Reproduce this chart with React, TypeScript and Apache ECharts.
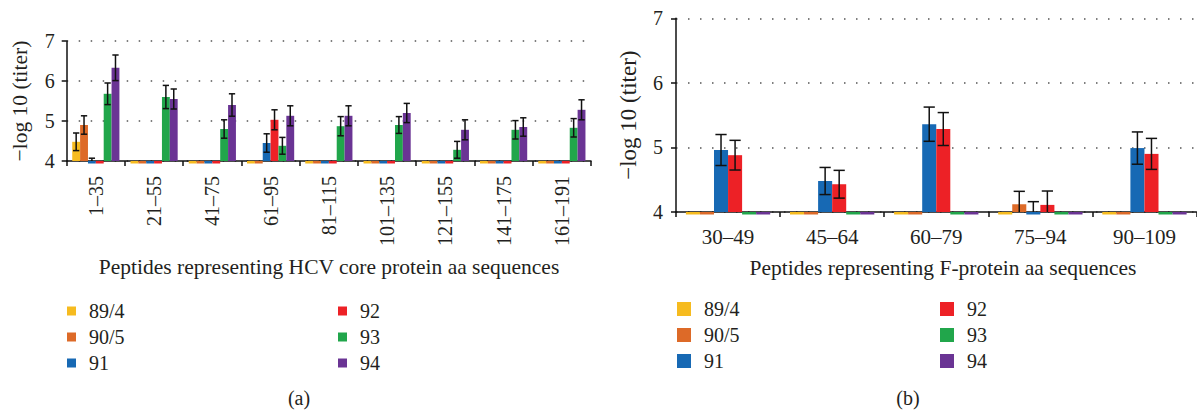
import React, { useEffect, useRef } from "react";
import * as echarts from "echarts";

const seriesNames = ["89/4", "90/5", "91", "92", "93", "94"];
const seriesColors = ["#f6bb1f", "#dd6a28", "#1769b4", "#ed2126", "#21a64b", "#6a3494"];

const coreCategories = ["1–35", "21–55", "41–75", "61–95", "81–115", "101–135", "121–155", "141–175", "161–191"];
const core894 = [4.48, 4, 4, 4, 4, 4, 4, 4, 4];
const core905 = [4.9, 4, 4, 4, 4, 4, 4, 4, 4];
const core91 = [4, 4, 4, 4.45, 4, 4, 4, 4, 4];
const core92 = [4, 4, 4, 5.03, 4, 4, 4, 4, 4];
const core93 = [5.68, 5.6, 4.8, 4.38, 4.87, 4.9, 4.28, 4.78, 4.83];
const core94 = [6.33, 5.55, 5.4, 5.13, 5.13, 5.2, 4.78, 4.85, 5.28];
const coreErr894 = [0.22, 0, 0, 0, 0, 0, 0, 0, 0];
const coreErr905 = [0.23, 0, 0, 0, 0, 0, 0, 0, 0];
const coreErr91 = [0.07, 0, 0, 0.23, 0, 0, 0, 0, 0];
const coreErr92 = [0, 0, 0, 0.25, 0, 0, 0, 0, 0];
const coreErr93 = [0.27, 0.29, 0.23, 0.21, 0.24, 0.21, 0.21, 0.23, 0.23];
const coreErr94 = [0.32, 0.25, 0.28, 0.25, 0.25, 0.24, 0.25, 0.23, 0.25];

const fCategories = ["30–49", "45–64", "60–79", "75–94", "90–109"];
const f894 = [4, 4, 4, 4, 4];
const f905 = [4, 4, 4, 4.12, 4];
const f91 = [4.96, 4.48, 5.36, 4, 4.99];
const f92 = [4.88, 4.43, 5.285, 4.11, 4.9];
const f93 = [4, 4, 4, 4, 4];
const f94 = [4, 4, 4, 4, 4];
const fErr894 = [0, 0, 0, 0, 0];
const fErr905 = [0, 0, 0, 0.2, 0];
const fErr91 = [0.24, 0.21, 0.265, 0.16, 0.25];
const fErr92 = [0.23, 0.215, 0.255, 0.215, 0.24];
const fErr93 = [0, 0, 0, 0, 0];
const fErr94 = [0, 0, 0, 0, 0];

const yTicksMin = 4;
const yTicksMax = 7;

const FONT = "Liberation Serif";
const TXT = "#231f20";
const GAP_RATIO = 0.19;

function makeErrorSeries(values: number[][], errs: number[][], axisIndex: number, capRatio: number) {
  const data: number[][] = [];
  values.forEach((vals, s) => {
    vals.forEach((v, c) => {
      const e = errs[s][c];
      if (e > 0) data.push([c, s, v, e]);
    });
  });
  return {
    type: "custom",
    xAxisIndex: axisIndex,
    yAxisIndex: axisIndex,
    z: 5,
    silent: true,
    clip: false,
    encode: { x: 0, y: 2 },
    data,
    renderItem: (params: any, api: any) => {
      const cat = api.value(0);
      const s = api.value(1);
      const v = api.value(2);
      const e = api.value(3);
      const band = api.size([1, 0])[0];
      const center = api.coord([cat, yTicksMin])[0];
      const n = values.length;
      const bw = (band * (1 - GAP_RATIO)) / n;
      const x = center - (band * (1 - GAP_RATIO)) / 2 + (s + 0.5) * bw;
      const lo = Math.max(yTicksMin, v - e);
      const hi = v + e;
      const yHi = api.coord([cat, hi])[1];
      const yLo = api.coord([cat, lo])[1];
      const cap = (bw * capRatio) / 2;
      const style = { stroke: "#111", lineWidth: 1.5 };
      const children: any[] = [
        { type: "line", shape: { x1: x, y1: yLo, x2: x, y2: yHi }, style },
        { type: "line", shape: { x1: x - cap, y1: yHi, x2: x + cap, y2: yHi }, style },
      ];
      if (v - e >= yTicksMin) {
        children.push({ type: "line", shape: { x1: x - cap, y1: yLo, x2: x + cap, y2: yLo }, style });
      }
      return { type: "group", children };
    },
  };
}

function makeBars(values: number[][], axisIndex: number) {
  return values.map((vals, s) => ({
    name: seriesNames[s],
    type: "bar",
    xAxisIndex: axisIndex,
    yAxisIndex: axisIndex,
    barGap: "0%",
    barCategoryGap: GAP_RATIO * 100 + "%",
    barMinHeight: 2.5,
    clip: false,
    itemStyle: { color: seriesColors[s] },
    data: vals.map((v) => (v > yTicksMin ? v : yTicksMin - 0.004)),
  }));
}

function yAxisOpt(gridIndex: number, fs: number, nameFs: number, nameGap: number, labelMargin: number) {
  return {
    type: "value",
    gridIndex,
    min: yTicksMin,
    max: yTicksMax,
    interval: 1,
    startValue: yTicksMin,
    name: "−log 10 (titer)",
    nameLocation: "middle",
    nameGap,
    nameTextStyle: { fontFamily: FONT, fontSize: nameFs, color: TXT },
    axisLine: { show: true, lineStyle: { color: "#111", width: 1.5 } },
    axisTick: { show: true, length: 5, lineStyle: { color: "#111", width: 1.5 } },
    axisLabel: { fontFamily: FONT, fontSize: fs, color: TXT, margin: labelMargin },
    splitLine: { show: true, lineStyle: { color: "#555", width: 1.5, type: [1.5, 10.5] } },
  };
}

export default function App() {
  const ref = useRef<HTMLDivElement>(null);
  useEffect(() => {
    document.body.style.margin = "0";
    const chart = echarts.init(ref.current!, null, { renderer: "svg" });
    const coreVals = [core894, core905, core91, core92, core93, core94];
    const coreErrs = [coreErr894, coreErr905, coreErr91, coreErr92, coreErr93, coreErr94];
    const fVals = [f894, f905, f91, f92, f93, f94];
    const fErrs = [fErr894, fErr905, fErr91, fErr92, fErr93, fErr94];

    const legendBase = (left: number, top: number, names: string[], size: number, pad: number) => ({
      orient: "vertical",
      left,
      top,
      padding: 0,
      data: names,
      icon: "rect",
      itemWidth: size,
      itemHeight: size,
      itemGap: 6,
      selectedMode: false,
      textStyle: { fontFamily: FONT, fontSize: 20, color: TXT, lineHeight: 20, padding: [0, 0, 0, pad] },
    });

    chart.setOption({
      animation: false,
      backgroundColor: "#fff",
      grid: [
        { left: 66.7, top: 41, width: 524.3, height: 120 },
        { left: 676, top: 18.3, width: 520.5, height: 193.7 },
      ],
      xAxis: [
        {
          type: "category",
          gridIndex: 0,
          data: coreCategories,
          axisLine: { lineStyle: { color: "#111", width: 1.5 } },
          axisTick: { show: true, length: 5, lineStyle: { color: "#111", width: 1.5 } },
          axisLabel: { rotate: 90, fontFamily: FONT, fontSize: 20, color: TXT, margin: 15, interval: 0 },
        },
        {
          type: "category",
          gridIndex: 1,
          data: fCategories,
          axisLine: { lineStyle: { color: "#111", width: 1.5 } },
          axisTick: { show: true, length: 5, lineStyle: { color: "#111", width: 1.5 } },
          axisLabel: { fontFamily: FONT, fontSize: 21, color: TXT, margin: 14, interval: 0 },
        },
      ],
      yAxis: [yAxisOpt(0, 20, 21.5, 36, 12), yAxisOpt(1, 20, 23, 36, 13)],
      legend: [
        legendBase(67, 301, ["89/4", "90/5", "91"], 9, 8),
        legendBase(338, 301, ["92", "93", "94"], 9, 8),
        legendBase(677, 299, ["89/4", "90/5", "91"], 14, 8),
        legendBase(940, 299, ["92", "93", "94"], 14, 8),
      ],
      graphic: [
        {
          type: "text",
          x: 329,
          y: 267,
          style: {
            text: "Peptides representing HCV core protein aa sequences",
            fontFamily: FONT,
            fontSize: 21.5,
            fill: TXT,
            align: "center",
            verticalAlign: "middle",
          },
        },
        {
          type: "text",
          x: 943,
          y: 268,
          style: {
            text: "Peptides representing F-protein aa sequences",
            fontFamily: FONT,
            fontSize: 21.5,
            fill: TXT,
            align: "center",
            verticalAlign: "middle",
          },
        },
        {
          type: "text",
          x: 299,
          y: 398,
          style: { text: "(a)", fontFamily: FONT, fontSize: 20, fill: TXT, align: "center", verticalAlign: "middle" },
        },
        {
          type: "text",
          x: 908,
          y: 398,
          style: { text: "(b)", fontFamily: FONT, fontSize: 20, fill: TXT, align: "center", verticalAlign: "middle" },
        },
      ],
      series: [
        ...makeBars(coreVals, 0),
        ...makeBars(fVals, 1),
        makeErrorSeries(coreVals, coreErrs, 0, 0.8),
        makeErrorSeries(fVals, fErrs, 1, 0.8),
      ],
    });
    return () => chart.dispose();
  }, []);
  return <div ref={ref} style={{ width: 1197, height: 410 }} />;
}
